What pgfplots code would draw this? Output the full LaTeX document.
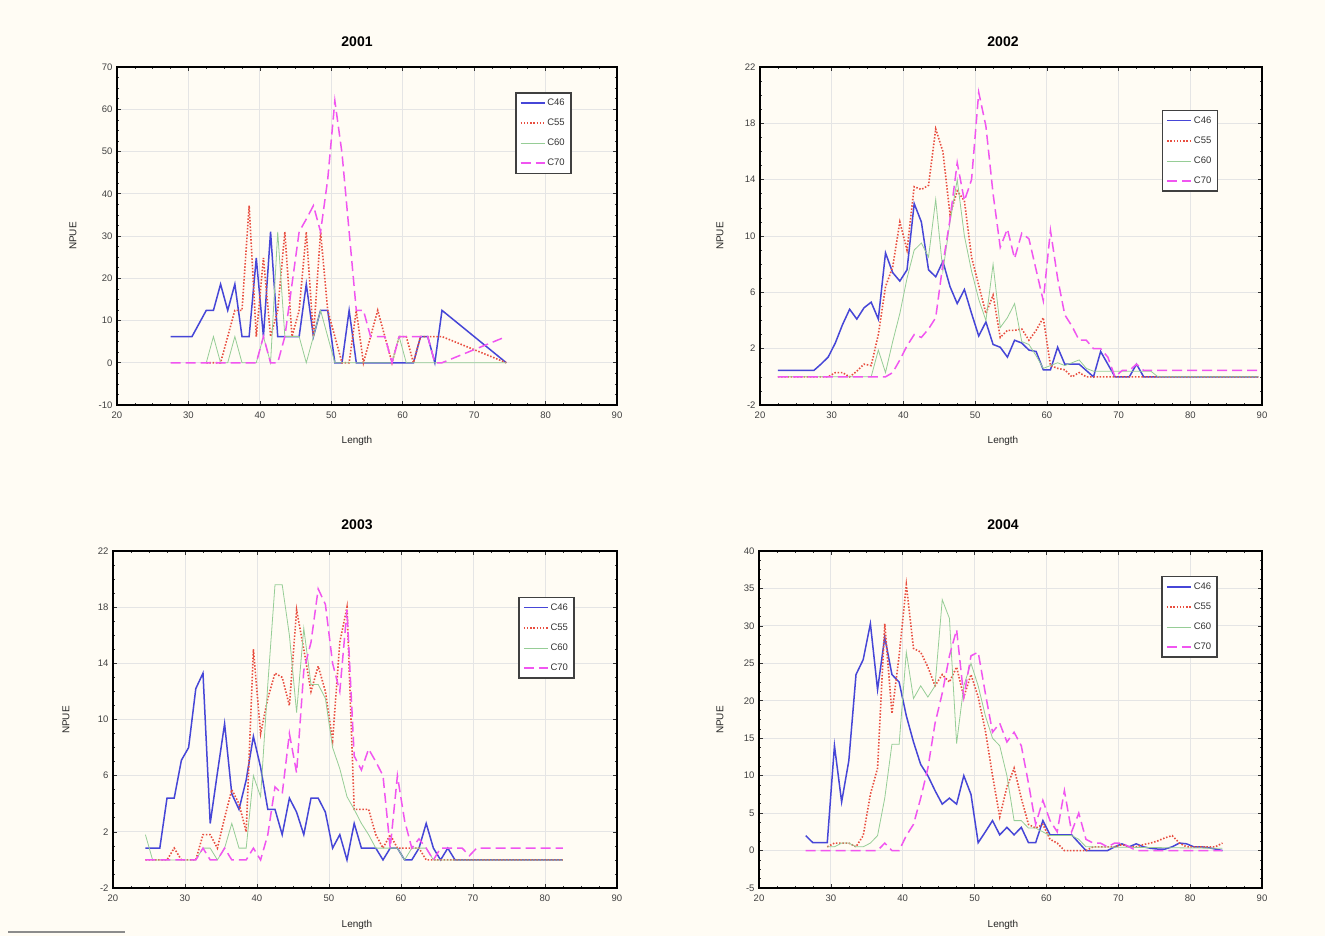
\documentclass[border=0pt]{standalone}
\usepackage{fontspec}
\setmainfont{Liberation Sans}
\usepackage{pgfplots}
\pgfplotsset{compat=1.18}

\definecolor{pagebg}{RGB}{255,252,244}
\definecolor{cA}{RGB}{70,70,215}
\definecolor{cB}{RGB}{232,78,64}
\definecolor{cC}{RGB}{150,205,150}
\definecolor{cD}{RGB}{240,85,240}

\pgfplotsset{
  panel/.style={
    scale only axis,
    xmin=20, xmax=90, xtick={20,30,...,90},
    minor x tick num=3, minor y tick num=3,
    axis line style={black, line width=1.1pt},
    every tick/.style={black!80, line width=0.6pt},
    major tick length=4pt, minor tick length=2pt,
    tick align=inside,
    grid=major, major grid style={black!10, line width=0.8pt},
    ticklabel style={font=\fontsize{9.5}{10}\selectfont, text=black!75},
    xticklabel style={yshift=-3pt},
    yticklabel style={xshift=-1pt},
    /pgf/number format/assume math mode=true,
    no markers,
    legend cell align=left,
    legend image code/.code={\draw[##1] (0pt,0pt) -- (24pt,0pt);},
    legend style={draw=black!75, line width=1.5pt, fill=white,
      font=\fontsize{9.5}{11}\selectfont, text=black!80,
      inner xsep=4pt, inner ysep=4pt, row sep=8pt, anchor=north west},
  },
  s46/.style={cA, line width=1.5pt, solid},
  s55/.style={cB, line width=1.6pt, dash pattern=on 1.5pt off 1.7pt},
  s60/.style={cC, line width=0.8pt, solid},
  s70/.style={cD, line width=1.5pt, dash pattern=on 10pt off 5pt},
}

\tikzset{
  ttl/.style={font=\bfseries\fontsize{14}{16}\selectfont},
  lbl/.style={font=\fontsize{10}{11}\selectfont, text=black!85},
}

\begin{document}
\begin{tikzpicture}
\useasboundingbox (0pt,0pt) rectangle (1325pt,-936pt);
\fill[pagebg] (0pt,0pt) rectangle (1325pt,-936pt);

% ---------------- 2001 ----------------
\begin{axis}[panel, at={(117pt,-405pt)}, anchor=south west,
  width=500pt, height=338pt,
  ymin=-10, ymax=70, ytick={-10,0,...,70},
  legend style={at={(0.796,0.926)}}]
\addplot[s46] coordinates {(27.5,6.2)(28.5,6.2)(29.5,6.2)(30.5,6.2)(32.5,12.4)(33.5,12.4)(34.5,18.6)(35.5,12.4)(36.5,18.6)(37.5,6.2)(38.5,6.2)(39.5,24.8)(40.5,6.2)(41.5,31)(42.5,6.2)(43.5,6.2)(44.5,6.2)(45.5,6.2)(46.5,18.6)(47.5,6.2)(48.5,12.4)(49.5,12.4)(50.5,0)(51.5,0)(52.5,12.4)(53.5,0)(54.5,0)(55.5,0)(56.5,0)(57.5,0)(58.5,0)(59.5,0)(60.5,0)(61.5,0)(62.5,6.2)(63.5,6.2)(64.5,0)(65.5,12.4)(74.5,0)};
\addplot[s55] coordinates {(32.5,0)(33.5,0)(34.5,0)(35.5,6.2)(36.5,12.4)(37.5,12.4)(38.5,37.2)(39.5,6.2)(40.5,24.8)(41.5,6.2)(42.5,12.4)(43.5,31)(44.5,6.2)(45.5,12.4)(46.5,31)(47.5,6.2)(48.5,31)(49.5,12.4)(50.5,6.2)(51.5,0)(52.5,0)(53.5,12.4)(54.5,0)(55.5,6.2)(56.5,12.4)(57.5,6.2)(58.5,0)(59.5,6.2)(60.5,6.2)(61.5,0)(62.5,6.2)(63.5,6.2)(64.5,6.2)(65.5,6.2)(74.5,0)};
\addplot[s60] coordinates {(32.5,0)(33.5,6.2)(34.5,0)(35.5,0)(36.5,6.2)(37.5,0)(38.5,0)(39.5,0)(40.5,6.2)(41.5,0)(42.5,31)(43.5,6.2)(44.5,6.2)(45.5,6.2)(46.5,0)(47.5,6.2)(48.5,12.4)(49.5,6.2)(50.5,0)(51.5,0)(52.5,0)(53.5,0)(54.5,0)(55.5,0)(56.5,0)(57.5,0)(58.5,0)(59.5,6.2)(60.5,0)(74.5,0)};
\addplot[s70] coordinates {(27.5,0)(28.5,0)(29.5,0)(30.5,0)(31.5,0)(32.5,0)(33.5,0)(34.5,0)(35.5,0)(36.5,0)(37.5,0)(38.5,0)(39.5,0)(40.5,6.2)(41.5,0)(42.5,0)(43.5,6.2)(44.5,18.6)(45.5,31)(46.5,34)(47.5,37.2)(48.5,31)(49.5,43.4)(50.5,62)(51.5,49.6)(52.5,31)(53.5,12.4)(54.5,12.4)(55.5,6.2)(56.5,6.2)(57.5,6.2)(58.5,0)(59.5,6.2)(60.5,6.2)(61.5,6.2)(62.5,6.2)(63.5,6.2)(64.5,0)(65.5,0)(74.5,6.2)};
\legend{C46,C55,C60,C70}
\end{axis}

% ---------------- 2002 ----------------
\begin{axis}[panel, at={(760pt,-405pt)}, anchor=south west,
  width=502pt, height=338pt,
  ymin=-2, ymax=22, ytick={-2,2,...,22},
  legend style={at={(0.80,0.873)}}]
\addplot[s46] coordinates {(22.5,0.45)(23.5,0.45)(24.5,0.45)(25.5,0.45)(26.5,0.45)(27.5,0.45)(28.5,0.9)(29.5,1.4)(30.5,2.4)(31.5,3.7)(32.5,4.8)(33.5,4.1)(34.5,4.9)(35.5,5.3)(36.5,4.1)(37.5,8.8)(38.5,7.4)(39.5,6.8)(40.5,7.6)(41.5,12.3)(42.5,11.0)(43.5,7.6)(44.5,7.1)(45.5,8.2)(46.5,6.4)(47.5,5.2)(48.5,6.2)(49.5,4.5)(50.5,2.9)(51.5,3.9)(52.5,2.3)(53.5,2.1)(54.5,1.4)(55.5,2.6)(56.5,2.4)(57.5,1.9)(58.5,1.8)(59.5,0.5)(60.5,0.5)(61.5,2.1)(62.5,0.9)(63.5,0.9)(64.5,0.9)(65.5,0.45)(66.5,0)(67.5,1.8)(68.5,0.9)(69.5,0)(70.5,0)(71.5,0)(72.5,0.9)(73.5,0)(89.5,0)};
\addplot[s55] coordinates {(22.5,0)(29.5,0)(30.5,0.3)(31.5,0.3)(32.5,0)(33.5,0.4)(34.5,0.9)(35.5,0.8)(36.5,3.0)(37.5,6.4)(38.5,7.8)(39.5,11.0)(40.5,9.0)(41.5,13.5)(42.5,13.3)(43.5,13.6)(44.5,17.6)(45.5,16.0)(46.5,11.5)(47.5,13.2)(48.5,12.5)(49.5,8.5)(50.5,6.5)(51.5,4.5)(52.5,5.8)(53.5,2.8)(54.5,3.3)(55.5,3.3)(56.5,3.4)(57.5,2.6)(58.5,3.3)(59.5,4.2)(60.5,0.8)(61.5,0.6)(62.5,0.5)(63.5,0)(64.5,0.3)(65.5,0)(89.5,0)};
\addplot[s60] coordinates {(22.5,0)(35.5,0)(36.5,1.9)(37.5,0.3)(38.5,2.5)(39.5,4.5)(40.5,7.0)(41.5,9.0)(42.5,9.5)(43.5,8.5)(44.5,12.6)(45.5,7.5)(46.5,11.0)(47.5,14.0)(48.5,10.0)(49.5,7.5)(50.5,5.5)(51.5,4.0)(52.5,8.0)(53.5,3.5)(54.5,4.2)(55.5,5.2)(56.5,2.5)(57.5,2.3)(58.5,1.5)(59.5,0.6)(60.5,0.8)(61.5,1.0)(62.5,0.8)(63.5,1.0)(64.5,1.2)(65.5,0.6)(66.5,0.4)(74.5,0.4)(75.5,0)(89.5,0)};
\addplot[s70] coordinates {(22.5,0)(37.5,0)(38.5,0.3)(39.5,1.2)(40.5,2.2)(41.5,3.0)(42.5,2.8)(43.5,3.4)(44.5,4.2)(45.5,8.0)(46.5,11.2)(47.5,15.2)(48.5,12.5)(49.5,14.0)(50.5,20.2)(51.5,17.8)(52.5,13.0)(53.5,9.2)(54.5,10.5)(55.5,8.4)(56.5,10.2)(57.5,9.8)(58.5,7.6)(59.5,5.4)(60.5,10.4)(61.5,7.0)(62.5,4.4)(63.5,3.6)(64.5,2.6)(65.5,2.6)(66.5,2.0)(67.5,2.0)(68.5,1.4)(69.5,0)(70.5,0.45)(71.5,0.45)(72.5,0.9)(73.5,0.45)(89.5,0.45)};
\legend{C46,C55,C60,C70}
\end{axis}

% ---------------- 2003 ----------------
\begin{axis}[panel, at={(113pt,-888pt)}, anchor=south west,
  width=504pt, height=337pt,
  ymin=-2, ymax=22, ytick={-2,2,...,22},
  legend style={at={(0.804,0.864)}}]
\addplot[s46] coordinates {(24.5,0.84)(25.5,0.84)(26.5,0.84)(27.5,4.4)(28.5,4.4)(29.5,7.1)(30.5,8.0)(31.5,12.2)(32.5,13.3)(33.5,2.6)(34.5,6.2)(35.5,9.7)(36.5,4.7)(37.5,3.6)(38.5,5.7)(39.5,8.8)(40.5,6.6)(41.5,3.6)(42.5,3.6)(43.5,1.8)(44.5,4.4)(45.5,3.4)(46.5,1.8)(47.5,4.4)(48.5,4.4)(49.5,3.4)(50.5,0.84)(51.5,1.8)(52.5,0)(53.5,2.6)(54.5,0.84)(55.5,0.84)(56.5,0.84)(57.5,0)(58.5,0.84)(59.5,0.84)(60.5,0)(61.5,0)(62.5,0.84)(63.5,2.6)(64.5,0.84)(65.5,0)(66.5,0.84)(67.5,0)(82.5,0)};
\addplot[s55] coordinates {(24.5,0)(27.5,0)(28.5,0.84)(29.5,0)(30.5,0)(31.5,0)(32.5,1.8)(33.5,1.8)(34.5,0.84)(35.5,3.0)(36.5,5.0)(37.5,4.0)(38.5,2.0)(39.5,15.0)(40.5,9.0)(41.5,11.5)(42.5,13.3)(43.5,13.0)(44.5,11.0)(45.5,17.8)(46.5,15.0)(47.5,12.0)(48.5,13.8)(49.5,12.0)(50.5,8.5)(51.5,15.5)(52.5,18.0)(53.5,3.6)(54.5,3.6)(55.5,3.6)(56.5,1.8)(57.5,0.84)(58.5,1.8)(59.5,0.84)(60.5,0.84)(61.5,0.84)(62.5,0.84)(63.5,0)(82.5,0)};
\addplot[s60] coordinates {(24.5,1.8)(25.5,0)(31.5,0)(32.5,0.84)(33.5,0.84)(34.5,0)(35.5,0.84)(36.5,2.6)(37.5,0.84)(38.5,0.84)(39.5,6.0)(40.5,4.5)(41.5,12.5)(42.5,19.6)(43.5,19.6)(44.5,16.0)(45.5,10.5)(46.5,16.5)(47.5,12.5)(48.5,12.5)(49.5,11.5)(50.5,8.0)(51.5,6.5)(52.5,4.5)(53.5,3.6)(54.5,2.6)(55.5,1.8)(56.5,0.84)(57.5,0.84)(58.5,0.84)(59.5,0.84)(60.5,0)(61.5,0.84)(62.5,0.84)(63.5,0.84)(64.5,0)(82.5,0)};
\addplot[s70] coordinates {(24.5,0)(31.5,0)(32.5,0.84)(33.5,0)(34.5,0)(35.5,0.84)(36.5,0)(37.5,0)(38.5,0)(39.5,0.84)(40.5,0)(41.5,1.8)(42.5,5.2)(43.5,4.7)(44.5,9.0)(45.5,6.2)(46.5,13.5)(47.5,15.5)(48.5,19.3)(49.5,18.2)(50.5,14.0)(51.5,12.0)(52.5,17.8)(53.5,7.4)(54.5,6.4)(55.5,7.9)(56.5,7.0)(57.5,6.0)(58.5,0.84)(59.5,6.0)(60.5,2.8)(61.5,0.84)(62.5,1.5)(63.5,0.84)(64.5,0)(65.5,0.84)(66.5,0.84)(67.5,0.84)(68.5,0.84)(69.5,0.3)(70.5,0.84)(71.5,0.84)(82.5,0.84)};
\legend{C46,C55,C60,C70}
\end{axis}

% ---------------- 2004 ----------------
\begin{axis}[panel, at={(759pt,-888pt)}, anchor=south west,
  width=503pt, height=337pt,
  ymin=-5, ymax=40, ytick={-5,0,...,40},
  legend style={at={(0.80,0.926)}}]
\addplot[s46] coordinates {(26.5,2.0)(27.5,1.05)(28.5,1.05)(29.5,1.05)(30.5,14.0)(31.5,6.5)(32.5,12.0)(33.5,23.5)(34.5,25.5)(35.5,30.3)(36.5,21.5)(37.5,28.5)(38.5,23.5)(39.5,22.5)(40.5,18.0)(41.5,14.5)(42.5,11.5)(43.5,10.0)(44.5,8.0)(45.5,6.2)(46.5,7.0)(47.5,6.2)(48.5,10.0)(49.5,7.5)(50.5,1.05)(51.5,2.5)(52.5,4.0)(53.5,2.1)(54.5,3.1)(55.5,2.1)(56.5,3.1)(57.5,1.05)(58.5,1.05)(59.5,4.0)(60.5,2.1)(61.5,2.1)(62.5,2.1)(63.5,2.1)(64.5,1.05)(65.5,0)(66.5,0)(67.5,0)(68.5,0)(69.5,0.5)(70.5,0.9)(71.5,0.5)(72.5,0.9)(73.5,0.5)(74.5,0.3)(75.5,0.2)(76.5,0.2)(77.5,0.5)(78.5,1.0)(79.5,0.9)(80.5,0.5)(81.5,0.5)(82.5,0.4)(83.5,0.2)(84.5,0)};
\addplot[s55] coordinates {(29.5,0.5)(30.5,1.0)(31.5,1.0)(32.5,1.0)(33.5,0.5)(34.5,2.0)(35.5,7.5)(36.5,11.0)(37.5,30.3)(38.5,18.3)(39.5,26.0)(40.5,35.5)(41.5,27.0)(42.5,26.5)(43.5,24.5)(44.5,22.0)(45.5,23.5)(46.5,22.5)(47.5,24.5)(48.5,20.5)(49.5,23.5)(50.5,20.5)(51.5,16.0)(52.5,10.0)(53.5,4.5)(54.5,8.5)(55.5,11.0)(56.5,7.0)(57.5,3.5)(58.5,3.0)(59.5,3.5)(60.5,1.5)(61.5,1.0)(62.5,0)(63.5,0)(64.5,0)(65.5,0)(66.5,0.5)(67.5,0.5)(68.5,0.5)(69.5,0.5)(70.5,0.8)(71.5,0.5)(72.5,0.5)(73.5,0.8)(74.5,1.0)(75.5,1.3)(76.5,1.7)(77.5,2.0)(78.5,1.0)(79.5,0.5)(80.5,0.5)(81.5,0.5)(82.5,0.5)(83.5,0.5)(84.5,1.0)};
\addplot[s60] coordinates {(29.5,0.5)(30.5,0.5)(31.5,1.0)(32.5,1.0)(33.5,0.5)(34.5,0.5)(35.5,1.0)(36.5,2.0)(37.5,7.0)(38.5,14.2)(39.5,14.2)(40.5,26.5)(41.5,20.3)(42.5,22.0)(43.5,20.5)(44.5,22.0)(45.5,33.5)(46.5,31.0)(47.5,14.3)(48.5,22.0)(49.5,25.0)(50.5,22.0)(51.5,18.0)(52.5,15.0)(53.5,14.0)(54.5,10.0)(55.5,4.0)(56.5,4.0)(57.5,3.0)(58.5,3.0)(59.5,2.5)(60.5,2.0)(61.5,2.0)(62.5,2.0)(63.5,2.0)(64.5,1.5)(65.5,0.5)(84.5,0.3)};
\addplot[s70] coordinates {(26.5,0)(36.5,0)(37.5,1.0)(38.5,0)(39.5,0)(40.5,2.0)(41.5,3.5)(42.5,7.0)(43.5,11.0)(44.5,17.0)(45.5,21.0)(46.5,26.0)(47.5,29.5)(48.5,20.5)(49.5,26.0)(50.5,26.5)(51.5,21.0)(52.5,15.8)(53.5,17.0)(54.5,14.5)(55.5,15.8)(56.5,14.0)(57.5,9.0)(58.5,3.5)(59.5,6.7)(60.5,4.0)(61.5,2.5)(62.5,8.0)(63.5,2.5)(64.5,5.0)(65.5,1.5)(66.5,1.0)(67.5,1.0)(68.5,0.5)(69.5,1.0)(70.5,1.0)(71.5,0.5)(72.5,0)(84.5,0)};
\legend{C46,C55,C60,C70}
\end{axis}

% titles and axis names
\node[ttl] at (357pt,-42pt) {2001};
\node[ttl] at (1003pt,-42pt) {2002};
\node[ttl] at (357pt,-525pt) {2003};
\node[ttl] at (1003pt,-525pt) {2004};
\node[lbl] at (357pt,-441pt) {Length};
\node[lbl] at (1003pt,-441pt) {Length};
\node[lbl] at (357pt,-925pt) {Length};
\node[lbl] at (1003pt,-925pt) {Length};
\node[lbl, rotate=90] at (73pt,-236pt) {NPUE};
\node[lbl, rotate=90] at (720pt,-236pt) {NPUE};
\node[lbl, rotate=90] at (66pt,-720pt) {NPUE};
\node[lbl, rotate=90] at (720pt,-720pt) {NPUE};
\draw[black!45, line width=1.5pt] (8pt,-932pt) -- (125pt,-932pt);
\end{tikzpicture}
\end{document}
